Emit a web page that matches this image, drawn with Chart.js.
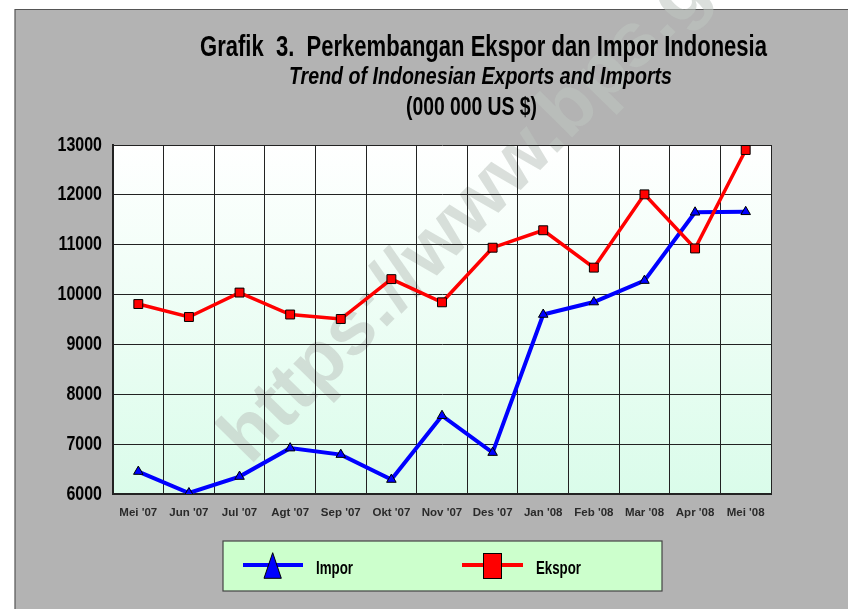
<!DOCTYPE html>
<html><head><meta charset="utf-8">
<script src="https://cdn.jsdelivr.net/npm/chart.js@4/dist/chart.umd.min.js"></script>
<style>html,body{margin:0;padding:0;background:#fff}canvas{display:block}</style>
</head><body>
<canvas id="c" width="848" height="609"></canvas>
<script>
const categories = ["Mei '07","Jun '07","Jul '07","Agt '07","Sep '07","Okt '07","Nov '07","Des '07","Jan '08","Feb '08","Mar '08","Apr '08","Mei '08"];
const impor  = [6450, 6020, 6350, 6920, 6790, 6290, 7570, 6830, 9600, 9850, 10280, 11650, 11660];
const ekspor = [9810, 9550, 10040, 9600, 9510, 10310, 9845, 10940, 11290, 10540, 12010, 10925, 12900];
const yMin = 6000, yMax = 13000, yStep = 1000;
const titleLines = ["Grafik  3.  Perkembangan Ekspor dan Impor Indonesia", "Trend of Indonesian Exports and Imports", "(000 000 US $)"];
const seriesNames = ["Impor", "Ekspor"];
const watermark = "https://www.bps.go.id";

const FONT = "'Liberation Sans Narrow','Arial Narrow','Liberation Sans',Arial,sans-serif";

function fitText(ctx, text, left, baseline, width, font) {
  ctx.save();
  ctx.font = font;
  const w = ctx.measureText(text).width;
  ctx.translate(left, baseline);
  ctx.scale(width / w, 1);
  ctx.textAlign = 'left';
  ctx.textBaseline = 'alphabetic';
  ctx.fillText(text, 0, 0);
  ctx.restore();
}

// condense an axis' tick labels horizontally (narrow-font look), anchored at the label edge
function condenseLabels(scale, factor, anchorX) {
  if (scale._condensed) return;
  scale._condensed = true;
  const orig = scale.drawLabels.bind(scale);
  scale.drawLabels = function (area) {
    const ctx = this.ctx;
    ctx.save();
    const ax = anchorX(this);
    ctx.translate(ax, 0); ctx.scale(factor, 1); ctx.translate(-ax, 0);
    orig(area);
    ctx.restore();
  };
}

const decor = {
  id: 'decor',
  beforeDraw(chart) {
    const ctx = chart.ctx, a = chart.chartArea;
    condenseLabels(chart.scales.y, 0.8, (s) => s.right - s.options.ticks.padding);
    ctx.save();
    ctx.fillStyle = '#ffffff';
    ctx.fillRect(0, 0, chart.width, chart.height);
    ctx.fillStyle = '#b3b3b3';
    ctx.fillRect(15, 9, chart.width - 15, chart.height - 9);
    ctx.strokeStyle = '#555555';
    ctx.lineWidth = 1.2;
    ctx.beginPath();
    ctx.moveTo(15, chart.height); ctx.lineTo(15, 9.5); ctx.lineTo(chart.width, 9.5);
    ctx.stroke();
    const g = ctx.createLinearGradient(0, a.top, 0, a.bottom);
    g.addColorStop(0, '#ffffff');
    g.addColorStop(1, '#dafcea');
    ctx.fillStyle = g;
    ctx.fillRect(a.left, a.top, a.right - a.left, a.bottom - a.top);
    // watermark
    ctx.translate(250, 466);
    ctx.rotate(-0.795);
    ctx.font = "bold 77px 'Liberation Sans', Arial, sans-serif";
    ctx.fillStyle = 'rgba(190,196,192,0.55)';
    ctx.textBaseline = 'alphabetic';
    ctx.fillText(watermark, 0, 0);
    ctx.restore();
  },
  afterDraw(chart) {
    const ctx = chart.ctx;
    ctx.save();
    ctx.fillStyle = '#000000';
    fitText(ctx, titleLines[0], 200, 56, 567, "bold 29px " + FONT);
    fitText(ctx, titleLines[1], 289, 84, 383, "italic bold 24px " + FONT);
    fitText(ctx, titleLines[2], 406, 115, 131, "bold 26px " + FONT);
    // legend
    ctx.fillStyle = '#ccffcc';
    ctx.fillRect(223, 541, 439, 50);
    ctx.strokeStyle = '#444444';
    ctx.lineWidth = 1.2;
    ctx.strokeRect(223, 541, 439, 50);
    const ds = chart.data.datasets;
    // Impor
    ctx.strokeStyle = ds[0].borderColor; ctx.lineWidth = 4;
    ctx.beginPath(); ctx.moveTo(243, 565); ctx.lineTo(303, 565); ctx.stroke();
    ctx.fillStyle = ds[0].pointBackgroundColor; ctx.strokeStyle = '#000'; ctx.lineWidth = 1;
    ctx.beginPath(); ctx.moveTo(272.7, 552.7); ctx.lineTo(281.3, 578.3); ctx.lineTo(264, 578.3); ctx.closePath(); ctx.fill(); ctx.stroke();
    // Ekspor
    ctx.strokeStyle = ds[1].borderColor; ctx.lineWidth = 4;
    ctx.beginPath(); ctx.moveTo(462, 565); ctx.lineTo(523, 565); ctx.stroke();
    ctx.fillStyle = ds[1].pointBackgroundColor; ctx.strokeStyle = '#000'; ctx.lineWidth = 1;
    ctx.fillRect(483.5, 553.5, 18, 25); ctx.strokeRect(483.5, 553.5, 18, 25);
    ctx.fillStyle = '#000';
    fitText(ctx, ds[0].label, 316, 574, 37, "bold 18px " + FONT);
    fitText(ctx, ds[1].label, 536, 574, 45, "bold 18px " + FONT);
    ctx.restore();
  }
};

new Chart(document.getElementById('c'), {
  type: 'line',
  data: {
    labels: categories,
    datasets: [
      { label: seriesNames[0], data: impor, borderColor: '#0000ff', backgroundColor: '#0000ff',
        pointBackgroundColor: '#0000ff', pointBorderColor: '#000000', pointBorderWidth: 1,
        borderWidth: 4, pointStyle: 'triangle', pointRadius: 5.5, tension: 0, order: 2 },
      { label: seriesNames[1], data: ekspor, borderColor: '#ff0000', backgroundColor: '#ff0000',
        pointBackgroundColor: '#ff0000', pointBorderColor: '#000000', pointBorderWidth: 1,
        borderWidth: 3.5, pointStyle: 'rect', pointRadius: 6.3, tension: 0, order: 1 }
    ]
  },
  options: {
    responsive: false,
    animation: false,
    devicePixelRatio: 1,
    layout: { padding: { left: 0, right: 77, top: 145, bottom: 0 } },
    plugins: { legend: { display: false }, title: { display: false }, tooltip: { enabled: false } },
    scales: {
      x: {
        offset: true,
        grid: { offset: true, color: '#222222', lineWidth: 1, drawTicks: false },
        border: { color: '#222222', width: 2 },
        ticks: { color: '#2a2a2a', font: { family: FONT, size: 11.5, weight: 'bold' }, padding: 12, maxRotation: 0, autoSkip: false },
        afterFit(s) { s.height = 115; }
      },
      y: {
        min: yMin, max: yMax,
        grid: { color: '#222222', lineWidth: 1, drawTicks: false },
        border: { color: '#222222', width: 2 },
        ticks: { stepSize: yStep, color: '#000000', font: { family: FONT, size: 20, weight: 'bold' }, padding: 11,
          callback: (v) => String(v) },
        afterFit(s) { s.width = 113; }
      }
    }
  },
  plugins: [decor]
});
</script>
</body></html>
